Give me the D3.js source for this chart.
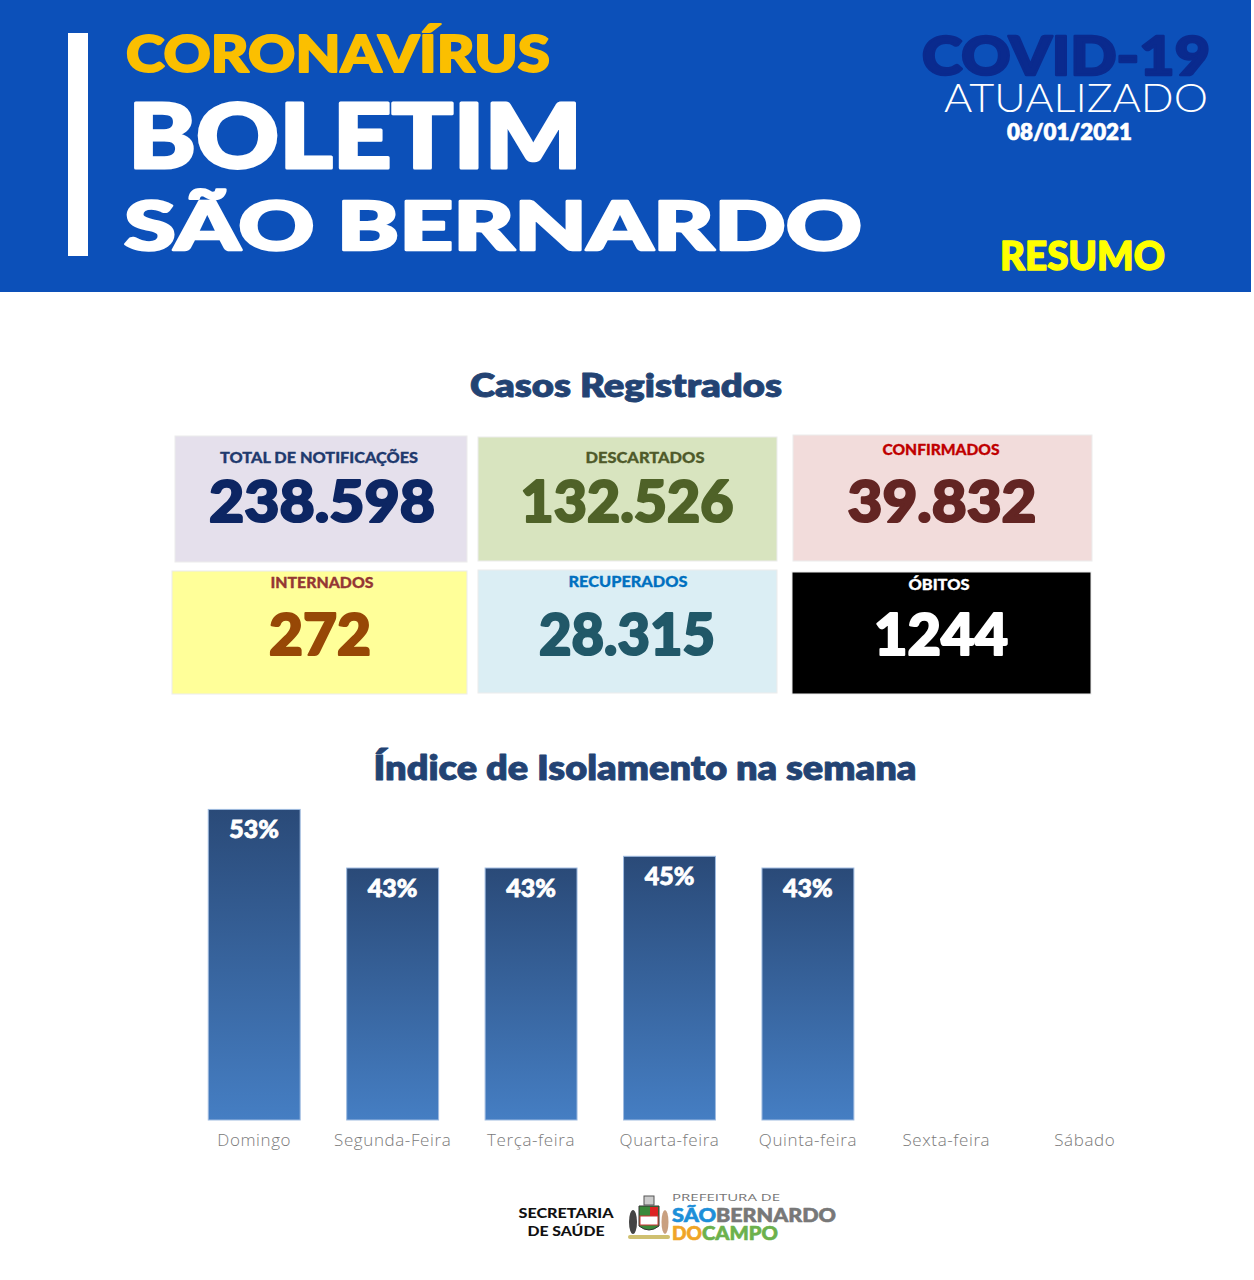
<!DOCTYPE html>
<html><head><meta charset="utf-8">
<script src="https://cdn.jsdelivr.net/npm/d3@7"></script>
<style>body{margin:0;background:#fff}svg{display:block}</style>
</head><body>
<script>
// ---- data ----
const days = ["Domingo","Segunda-Feira","Terça-feira","Quarta-feira","Quinta-feira","Sexta-feira","Sábado"];
const isolation = [53,43,43,45,43,null,null];
const cardLabels = ["TOTAL DE NOTIFICAÇÕES","DESCARTADOS","CONFIRMADOS","INTERNADOS","RECUPERADOS","ÓBITOS"];
const cardValues = ["238.598","132.526","39.832","272","28.315","1244"];
const bulletinDate = "08/01/2021";

const W=1254,H=1280;
const svg=d3.select("body").append("svg").attr("width",W).attr("height",H);
const HEAVY="Lato, 'Open Sans', sans-serif";

// header
svg.append("rect").attr("x",0).attr("y",0).attr("width",1251).attr("height",292).attr("fill","#0c50b9");
svg.append("rect").attr("x",68).attr("y",33).attr("width",20).attr("height",223).attr("fill","#fff");
function txt(t,x,y,size,color,opts={}){
  const e=svg.append("text").attr("x",x).attr("y",y).text(t)
    .attr("font-family",opts.family||HEAVY).attr("font-size",size)
    .attr("font-weight",opts.weight||900).attr("fill",color)
    .attr("text-anchor",opts.anchor||"start");
  if(opts.len){e.attr("textLength",opts.len).attr("lengthAdjust","spacingAndGlyphs");}
  if(opts.ls) e.attr("letter-spacing",opts.ls);
  if(opts.sw) e.attr("stroke",color).attr("stroke-width",opts.sw).attr("stroke-linejoin","round");
  return e;
}
txt("CORONAVÍRUS",126,72,52,"#fbbf00",{len:424,sw:2});
txt("BOLETIM",128,168,90,"#fff",{len:454,sw:3});
txt("SÃO BERNARDO",124,250,66,"#fff",{len:738,sw:2.5});
txt("COVID-19",922,75,54,"#0a2a8e",{len:288,sw:2.5});
txt("ATUALIZADO",944,112,39,"#fff",{len:264,weight:300});
txt(bulletinDate,1007,140,22,"#fff",{len:125,weight:800,sw:0.6});
txt("RESUMO",1000,270,40,"#ffff00",{len:165,sw:1.5});

// section titles
txt("Casos Registrados",626,397,32,"#234373",{anchor:"middle",len:312,weight:800,sw:0.8});
txt("Índice de Isolamento na semana",645,780,34,"#234373",{anchor:"middle",len:543,weight:800,sw:0.8});

// cards
const cardBoxes=[[175,436,292,126],[478,437,299,124],[793,435,299,126],[172,571,295,123],[478,570,299,123],[792,572,299,122]];
const cardBg=["#e5e0ec","#d8e4bf","#f2dcdb","#ffff99","#dbeef4","#000000"];
const cardLabelColor=["#1f3a6e","#4f5a2a","#c00000","#953734","#0070c0","#ffffff"];
const cardValueColor=["#0d2663","#4f6228","#632523","#974806","#215868","#ffffff"];
const labelPos=[[319,463,198],[645,463,119],[941,455,117],[322,588,103],[628,587,119],[939,590,61]];
const valuePos=[[322,522,226],[627,522,213],[942,522,189],[320,655,102],[627,655,176],[941,655,134]];
cardLabels.forEach((l,i)=>{
  const b=cardBoxes[i];
  svg.append("rect").attr("x",b[0]).attr("y",b[1]).attr("width",b[2]).attr("height",b[3]).attr("fill",cardBg[i])
    .attr("stroke","#ececec").attr("stroke-width",1);
  txt(l,labelPos[i][0],labelPos[i][1],15,cardLabelColor[i],{anchor:"middle",len:labelPos[i][2],weight:900,sw:0.3});
  txt(cardValues[i],valuePos[i][0],valuePos[i][1],58,cardValueColor[i],{anchor:"middle",len:valuePos[i][2],weight:900,sw:2.2});
});

// bar chart
const x=d3.scaleBand().domain(days).range([185,1154]).paddingInner(0.336).paddingOuter(0.168);
const y=d3.scaleLinear().domain([0,100]).range([1120,534]);
const defs=svg.append("defs");
const g=defs.append("linearGradient").attr("id","barGrad").attr("x1",0).attr("y1",0).attr("x2",0).attr("y2",1);
g.append("stop").attr("offset","0%").attr("stop-color","#2a4a78");
g.append("stop").attr("offset","100%").attr("stop-color","#457ec3");
const data=days.map((d,i)=>({day:d,v:isolation[i]}));
const withVal=data.filter(d=>d.v!=null);
svg.append("g").selectAll("rect").data(withVal).join("rect")
  .attr("x",d=>x(d.day)).attr("y",d=>y(d.v)).attr("width",x.bandwidth()).attr("height",d=>y(0)-y(d.v))
  .attr("fill","url(#barGrad)").attr("stroke","#9fbbe0").attr("stroke-width",1);
svg.append("g").selectAll("text").data(withVal).join("text")
  .attr("x",d=>x(d.day)+x.bandwidth()/2).attr("y",d=>y(d.v)+29)
  .attr("text-anchor","middle").attr("fill","#fff").attr("font-family",HEAVY).attr("font-weight",900).attr("font-size",25)
  .attr("stroke","#fff").attr("stroke-width",0.8)
  .text(d=>d.v+"%");
const xAxis=svg.append("g").attr("transform","translate(0,1120)").call(d3.axisBottom(x).tickSize(0).tickPadding(14));
xAxis.select(".domain").remove();
xAxis.selectAll("text").attr("font-family","'Open Sans', sans-serif").attr("font-size",17).attr("fill","#7a7a7a")
  .attr("font-weight",300).attr("letter-spacing",0.6);

// footer
txt("SECRETARIA",566,1218,14,"#111",{anchor:"middle",len:95,weight:900});
txt("DE SAÚDE",566,1236,14,"#111",{anchor:"middle",len:77,weight:900});
// crest
const cr=svg.append("g");
cr.append("rect").attr("x",644).attr("y",1196).attr("width",10).attr("height",9).attr("fill","#ccc").attr("stroke","#555");
cr.append("path").attr("d","M639,1206 H659 V1226 Q649,1234 639,1226 Z").attr("fill","#3a8a3a").attr("stroke","#333");
cr.append("rect").attr("x",650).attr("y",1207).attr("width",8).attr("height",9).attr("fill","#d22");
cr.append("rect").attr("x",640).attr("y",1216).attr("width",18).attr("height",9).attr("fill","#fff").attr("stroke","#c33");
cr.append("ellipse").attr("cx",633).attr("cy",1222).attr("rx",4).attr("ry",12).attr("fill","#444");
cr.append("ellipse").attr("cx",665).attr("cy",1222).attr("rx",3.5).attr("ry",12).attr("fill","#c9a080");
cr.append("rect").attr("x",628).attr("y",1235).attr("width",42).attr("height",4).attr("rx",2).attr("fill","#cfc070");
txt("PREFEITURA DE",672,1201,9,"#777",{len:108,weight:400,family:"'Open Sans',sans-serif"});
txt("SÃO",672,1222,18,"#1d8fd9",{len:44,sw:0.6});
txt("BERNARDO",716,1222,18,"#787878",{len:120,sw:0.6});
txt("DO",672,1240,18,"#f0a526",{len:30,sw:0.6});
txt("CAMPO",702,1240,18,"#6cb14c",{len:76,sw:0.6});
</script>
</body></html>
